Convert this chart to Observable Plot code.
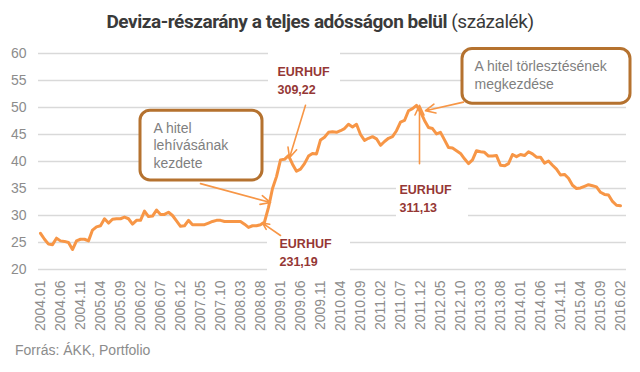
<!DOCTYPE html>
<html><head><meta charset="utf-8">
<script src="https://cdn.jsdelivr.net/npm/d3@7"></script>
<script src="https://cdn.jsdelivr.net/npm/@observablehq/plot@0.6"></script>
<style>
body{margin:0;background:#fff;width:640px;height:372px;overflow:hidden;font-family:"Liberation Sans",Arial,sans-serif}
#title{box-sizing:border-box;height:36px;padding-top:12px;line-height:20px;text-align:center;font-family:Roboto,sans-serif;font-size:19px;color:#3a3a3a;letter-spacing:-0.45px}
#title b{font-weight:700}
#title span{font-weight:400}
#chart{height:300px}
#caption{padding:4px 0 0 15px;line-height:20px;font-size:14px;color:#8c8c8c}
</style></head><body>
<div id="title"><b>Deviza-részarány a teljes adósságon belül</b> <span>(százalék)</span></div>
<div id="chart"></div>
<div id="caption">Forrás: ÁKK, Portfolio</div>
<script>
// Monthly share of FX debt in total debt, 2004.01 – 2016.02 (percent)
const share = [
  26.7,25.6,24.7,24.6,25.8,25.3,25.2,25.0,23.7,25.3,25.6,25.6,
  25.3,27.3,27.9,28.1,29.4,28.6,29.3,29.4,29.4,29.7,29.4,28.4,
  29.1,29.1,30.8,29.8,29.9,31.0,30.2,30.2,30.6,30.0,29.0,28.0,
  28.1,29.1,28.3,28.3,28.3,28.3,28.6,28.9,29.1,29.1,28.9,28.9,
  28.9,28.9,28.9,28.4,27.8,28.1,28.1,28.3,28.8,31.5,35.0,37.2,
  40.3,40.4,41.1,39.5,38.2,38.6,39.6,41.0,41.5,41.4,44.0,44.5,
  45.4,45.5,45.4,45.7,46.1,46.9,46.4,46.9,45.0,43.9,44.3,44.6,
  44.2,43.0,43.7,44.3,44.6,45.7,47.3,47.6,49.4,49.8,50.4,49.2,
  47.6,46.3,46.1,45.1,45.4,44.0,42.6,42.5,42.0,41.5,40.5,39.6,
  40.3,42.0,41.8,41.7,41.0,41.0,41.1,39.3,39.2,39.6,41.3,40.9,
  41.3,41.1,41.8,41.4,40.8,40.8,39.7,40.1,39.3,38.6,37.5,37.6,
  36.9,35.6,35.0,35.1,35.4,35.7,35.5,35.3,34.3,33.9,33.8,32.6,
  31.9,31.8
];
const tickLabels = ["2004.01","2004.06","2004.11","2005.04","2005.09","2006.02","2006.07","2006.12",
  "2007.05","2007.10","2008.03","2008.08","2009.01","2009.06","2009.11","2010.04","2010.09","2011.02",
  "2011.07","2011.12","2012.05","2012.10","2013.03","2013.08","2014.01","2014.06","2014.11","2015.04",
  "2015.09","2016.02"];
const tickStep = 5;
const yTicks = [20,25,30,35,40,45,50,55,60];

// Annotation texts
const boxTexts = ["A hitel\nlehívásának\nkezdete", "A hitel törlesztésének\nmegkezdése"];
const fxTexts = ["EURHUF\n309,22", "EURHUF\n231,19", "EURHUF\n311,13"];

// annotation anchors in data units (month index, percent)
const boxes = [
  {x1:25, x2:55.5, y1:36.5, y2:49.4, tx:28.25, ty:43.1, text:boxTexts[0], lh:1.25},
  {x1:105.5, x2:147.5, y1:50.7, y2:60.85, tx:108.5, ty:56.1, text:boxTexts[1], lh:1.3}
];
const labelBg = [
  {x1:57, x2:75, y1:51.3, y2:61.5},
  {x1:56.75, x2:77.5, y1:18.7, y2:27.6},
  {x1:89, x2:107, y1:29.1, y2:37.2}
];
const fxLabels = [
  {x:59.25, y:55.3, text:fxTexts[0]},
  {x:59.75, y:23.3, text:fxTexts[1]},
  {x:89.75, y:33.45, text:fxTexts[2]}
];
const arrows = [
  {x1:40, y1:35.9, x2:57.5, y2:32.4},
  {x1:66.25, y1:50.4, x2:62.25, y2:40.7},
  {x1:60, y1:26.3, x2:55.5, y2:28.6},
  {x1:105.75, y1:51.0, x2:96.25, y2:49.4},
  {x1:94.75, y1:39.6, x2:94.75, y2:50.4}
];

const data = share.map((v, i) => ({i, v}));
const tickIdx = tickLabels.map((_, k) => k * tickStep);

const chart = Plot.plot({
  width: 640, height: 300,
  marginLeft: 38, marginRight: 14, marginTop: 17, marginBottom: 67,
  x: {domain: [-0.5, 146.5], axis: null},
  y: {domain: [20, 60], axis: null},
  style: {fontFamily: '"Liberation Sans",Arial,sans-serif', color: "#8c8c8c", background: "transparent", overflow: "visible"},
  marks: [
    Plot.gridY(yTicks, {stroke: "#d9d9d9", strokeOpacity: 1, strokeWidth: 1.5}),
    Plot.axisY(yTicks, {tickSize: 0, tickPadding: 12, fontSize: 14, fill: "#8c8c8c"}),
    Plot.axisX(tickIdx, {tickSize: 0, tickRotate: -90, tickPadding: 11, fontSize: 14, fill: "#8c8c8c",
      tickFormat: d => tickLabels[d / tickStep]}),
    Plot.rect(labelBg, {x1: "x1", x2: "x2", y1: "y1", y2: "y2", fill: "white"}),
    Plot.rect(boxes, {x1: "x1", x2: "x2", y1: "y1", y2: "y2", fill: "white", stroke: "#b5722f", strokeWidth: 3, rx: 10}),
    Plot.line(data, {x: "i", y: "v", stroke: "#f79646", strokeWidth: 3, strokeLinejoin: "round"}),
    Plot.arrow(arrows, {x1: "x1", y1: "y1", x2: "x2", y2: "y2", stroke: "#f79646", strokeWidth: 1.6, headLength: 10, headAngle: 50}),
    Plot.text(boxes.slice(0,1), {x: "tx", y: "ty", text: "text", textAnchor: "start", lineAnchor: "middle", lineHeight: 1.25, fontSize: 14, fill: "#7f7f7f"}),
    Plot.text(boxes.slice(1), {x: "tx", y: "ty", text: "text", textAnchor: "start", lineAnchor: "middle", lineHeight: 1.3, fontSize: 14, fill: "#7f7f7f"}),
    Plot.text(fxLabels, {x: "x", y: "y", text: "text", textAnchor: "start", lineAnchor: "middle", lineHeight: 1.44, fontSize: 12.5, fontWeight: "bold", fill: "#953735"})
  ]
});
document.getElementById("chart").appendChild(chart);
</script>
</body></html>
